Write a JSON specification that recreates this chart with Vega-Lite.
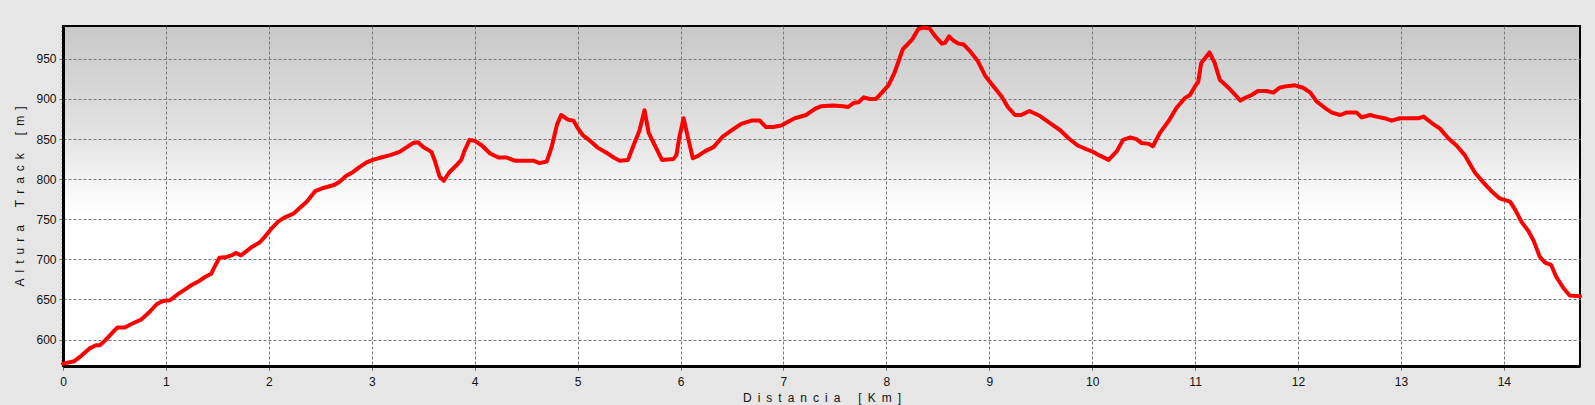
{
  "$schema": "https://vega.github.io/schema/vega-lite/v6.json",
  "width": 1517,
  "height": 340,
  "autosize": {"type": "none"},
  "padding": {"left": 63, "top": 26, "right": 15, "bottom": 39},
  "background": "#e6e6e6",
  "config": {
    "view": {
      "stroke": "#000000",
      "strokeWidth": 2,
      "fill": {
        "gradient": "linear", "x1": 0, "y1": 0, "x2": 0, "y2": 1,
        "stops": [
          {"offset": 0, "color": "#c8c8c8"},
          {"offset": 0.2, "color": "#d8d8d8"},
          {"offset": 0.35, "color": "#e6e6e6"},
          {"offset": 0.47, "color": "#f6f6f6"},
          {"offset": 0.55, "color": "#ffffff"},
          {"offset": 1, "color": "#ffffff"}
        ]
      }
    }
  },
  "data": {
    "values": [
      {"d": 0, "h": 570}, {"d": 0.11, "h": 573}, {"d": 0.18, "h": 580}, {"d": 0.26, "h": 589},
      {"d": 0.32, "h": 593}, {"d": 0.36, "h": 593}, {"d": 0.41, "h": 599}, {"d": 0.49, "h": 610},
      {"d": 0.53, "h": 615}, {"d": 0.6, "h": 615}, {"d": 0.66, "h": 619}, {"d": 0.76, "h": 625},
      {"d": 0.83, "h": 633}, {"d": 0.91, "h": 644}, {"d": 0.97, "h": 648}, {"d": 1.04, "h": 649},
      {"d": 1.12, "h": 657}, {"d": 1.18, "h": 662}, {"d": 1.25, "h": 668}, {"d": 1.31, "h": 672},
      {"d": 1.38, "h": 678}, {"d": 1.44, "h": 682}, {"d": 1.47, "h": 690}, {"d": 1.52, "h": 702},
      {"d": 1.59, "h": 703}, {"d": 1.64, "h": 705}, {"d": 1.68, "h": 708}, {"d": 1.73, "h": 705},
      {"d": 1.78, "h": 710}, {"d": 1.83, "h": 715}, {"d": 1.91, "h": 721}, {"d": 1.96, "h": 728},
      {"d": 2.03, "h": 739}, {"d": 2.09, "h": 747}, {"d": 2.15, "h": 752}, {"d": 2.24, "h": 757},
      {"d": 2.3, "h": 764}, {"d": 2.37, "h": 772}, {"d": 2.45, "h": 785}, {"d": 2.53, "h": 789},
      {"d": 2.64, "h": 793}, {"d": 2.69, "h": 797}, {"d": 2.75, "h": 804}, {"d": 2.82, "h": 809},
      {"d": 2.88, "h": 815}, {"d": 2.95, "h": 821}, {"d": 3.01, "h": 824}, {"d": 3.09, "h": 827},
      {"d": 3.18, "h": 830}, {"d": 3.27, "h": 834}, {"d": 3.34, "h": 840}, {"d": 3.4, "h": 845},
      {"d": 3.45, "h": 846}, {"d": 3.5, "h": 840}, {"d": 3.58, "h": 834}, {"d": 3.61, "h": 824},
      {"d": 3.66, "h": 803}, {"d": 3.7, "h": 798}, {"d": 3.75, "h": 808}, {"d": 3.82, "h": 817},
      {"d": 3.87, "h": 824}, {"d": 3.9, "h": 835}, {"d": 3.95, "h": 849}, {"d": 4.0, "h": 848},
      {"d": 4.07, "h": 842}, {"d": 4.15, "h": 832}, {"d": 4.23, "h": 827}, {"d": 4.31, "h": 827},
      {"d": 4.39, "h": 823}, {"d": 4.47, "h": 823}, {"d": 4.57, "h": 823}, {"d": 4.63, "h": 820},
      {"d": 4.7, "h": 822}, {"d": 4.75, "h": 841}, {"d": 4.8, "h": 868}, {"d": 4.84, "h": 880},
      {"d": 4.91, "h": 874}, {"d": 4.96, "h": 873}, {"d": 5.0, "h": 864}, {"d": 5.05, "h": 855},
      {"d": 5.12, "h": 848}, {"d": 5.2, "h": 839}, {"d": 5.28, "h": 833}, {"d": 5.35, "h": 827},
      {"d": 5.41, "h": 823}, {"d": 5.49, "h": 824}, {"d": 5.54, "h": 841}, {"d": 5.6, "h": 860},
      {"d": 5.65, "h": 886}, {"d": 5.69, "h": 858}, {"d": 5.75, "h": 842}, {"d": 5.82, "h": 824},
      {"d": 5.93, "h": 825}, {"d": 5.96, "h": 830}, {"d": 5.99, "h": 853}, {"d": 6.03, "h": 876},
      {"d": 6.07, "h": 853}, {"d": 6.12, "h": 826}, {"d": 6.17, "h": 829}, {"d": 6.24, "h": 835},
      {"d": 6.32, "h": 840}, {"d": 6.41, "h": 853}, {"d": 6.51, "h": 862}, {"d": 6.59, "h": 869},
      {"d": 6.69, "h": 873}, {"d": 6.77, "h": 873}, {"d": 6.83, "h": 865}, {"d": 6.9, "h": 865},
      {"d": 6.98, "h": 867}, {"d": 7.05, "h": 872}, {"d": 7.11, "h": 876}, {"d": 7.22, "h": 880},
      {"d": 7.31, "h": 888}, {"d": 7.37, "h": 891}, {"d": 7.48, "h": 892}, {"d": 7.58, "h": 891},
      {"d": 7.63, "h": 890}, {"d": 7.68, "h": 895}, {"d": 7.73, "h": 896}, {"d": 7.78, "h": 902},
      {"d": 7.84, "h": 900}, {"d": 7.9, "h": 900}, {"d": 7.95, "h": 907}, {"d": 8.02, "h": 917},
      {"d": 8.08, "h": 933}, {"d": 8.16, "h": 962}, {"d": 8.25, "h": 974}, {"d": 8.31, "h": 987},
      {"d": 8.36, "h": 989}, {"d": 8.42, "h": 988}, {"d": 8.47, "h": 979}, {"d": 8.54, "h": 969},
      {"d": 8.57, "h": 970}, {"d": 8.61, "h": 978}, {"d": 8.65, "h": 973}, {"d": 8.7, "h": 969},
      {"d": 8.75, "h": 968}, {"d": 8.81, "h": 960}, {"d": 8.89, "h": 947}, {"d": 8.96, "h": 929},
      {"d": 9.04, "h": 916}, {"d": 9.12, "h": 903}, {"d": 9.18, "h": 890}, {"d": 9.25, "h": 880},
      {"d": 9.31, "h": 880}, {"d": 9.39, "h": 885}, {"d": 9.49, "h": 879}, {"d": 9.59, "h": 870},
      {"d": 9.69, "h": 861}, {"d": 9.77, "h": 851}, {"d": 9.86, "h": 842}, {"d": 9.95, "h": 837},
      {"d": 10.01, "h": 834}, {"d": 10.08, "h": 829}, {"d": 10.16, "h": 824}, {"d": 10.24, "h": 835},
      {"d": 10.3, "h": 849}, {"d": 10.37, "h": 852}, {"d": 10.43, "h": 850}, {"d": 10.48, "h": 845},
      {"d": 10.55, "h": 844}, {"d": 10.59, "h": 841}, {"d": 10.66, "h": 858}, {"d": 10.74, "h": 872},
      {"d": 10.82, "h": 889}, {"d": 10.9, "h": 901}, {"d": 10.95, "h": 905}, {"d": 11.0, "h": 916},
      {"d": 11.03, "h": 921}, {"d": 11.06, "h": 945}, {"d": 11.14, "h": 958}, {"d": 11.19, "h": 945},
      {"d": 11.24, "h": 924}, {"d": 11.29, "h": 918}, {"d": 11.34, "h": 912}, {"d": 11.39, "h": 905},
      {"d": 11.44, "h": 898}, {"d": 11.48, "h": 901}, {"d": 11.55, "h": 905}, {"d": 11.61, "h": 910},
      {"d": 11.69, "h": 910}, {"d": 11.76, "h": 908}, {"d": 11.82, "h": 914}, {"d": 11.89, "h": 916},
      {"d": 11.97, "h": 917}, {"d": 12.05, "h": 914}, {"d": 12.12, "h": 908}, {"d": 12.18, "h": 897},
      {"d": 12.26, "h": 889}, {"d": 12.33, "h": 883}, {"d": 12.41, "h": 880}, {"d": 12.47, "h": 883},
      {"d": 12.57, "h": 883}, {"d": 12.62, "h": 877}, {"d": 12.7, "h": 880}, {"d": 12.76, "h": 878},
      {"d": 12.84, "h": 876}, {"d": 12.91, "h": 873}, {"d": 12.99, "h": 876}, {"d": 13.09, "h": 876},
      {"d": 13.17, "h": 876}, {"d": 13.22, "h": 878}, {"d": 13.3, "h": 870}, {"d": 13.38, "h": 863},
      {"d": 13.46, "h": 851}, {"d": 13.54, "h": 842}, {"d": 13.62, "h": 830}, {"d": 13.67, "h": 819},
      {"d": 13.72, "h": 808}, {"d": 13.8, "h": 796}, {"d": 13.88, "h": 785}, {"d": 13.96, "h": 776},
      {"d": 14.06, "h": 772}, {"d": 14.11, "h": 762}, {"d": 14.17, "h": 747}, {"d": 14.24, "h": 735},
      {"d": 14.29, "h": 723}, {"d": 14.35, "h": 703}, {"d": 14.4, "h": 696}, {"d": 14.46, "h": 693},
      {"d": 14.51, "h": 678}, {"d": 14.58, "h": 664}, {"d": 14.64, "h": 655}, {"d": 14.74, "h": 654}
    ]
  },
  "mark": {"type": "line", "color": "#ff0000", "strokeWidth": 4, "strokeJoin": "round", "strokeCap": "round"},
  "encoding": {
    "x": {
      "field": "d",
      "type": "quantitative",
      "scale": {"domain": [0, 14.74], "nice": false, "zero": false},
      "axis": {
        "title": "D\u2002i\u2002s\u2002t\u2002a\u2002n\u2002c\u2002i\u2002a\u2002\u2002\u2002[\u2002K\u2002m\u2002]",
        "values": [0,0.25,0.5,0.75,1,1.25,1.5,1.75,2,2.25,2.5,2.75,3,3.25,3.5,3.75,4,4.25,4.5,4.75,5,5.25,5.5,5.75,6,6.25,6.5,6.75,7,7.25,7.5,7.75,8,8.25,8.5,8.75,9,9.25,9.5,9.75,10,10.25,10.5,10.75,11,11.25,11.5,11.75,12,12.25,12.5,12.75,13,13.25,13.5,13.75,14,14.25,14.5],
        "format": "d",
        "labelExpr": "datum.value % 1 === 0 ? datum.label : ''",
        "labelOverlap": false,
        "labelFlush": false,
        "labelFont": "Liberation Sans",
        "labelFontSize": 12,
        "labelColor": "#111111",
        "labelPadding": 6,
        "grid": true,
        "gridColor": "#777777",
        "gridDash": [3, 2],
        "gridWidth": 1,
        "gridOpacity": {"condition": {"test": "datum.value % 1 === 0", "value": 1}, "value": 0},
        "ticks": true,
        "tickColor": "#666666",
        "tickSize": 4,
        "tickWidth": 1,
        "domain": true,
        "domainColor": "#000000",
        "domainWidth": 3,
        "titleFont": "Liberation Sans",
        "titleFontSize": 12,
        "titleFontWeight": "normal",
        "titleColor": "#111111",
        "titlePadding": 5
      }
    },
    "y": {
      "field": "h",
      "type": "quantitative",
      "scale": {"domain": [567, 991], "nice": false, "zero": false},
      "axis": {
        "title": "A\u2002l\u2002t\u2002u\u2002r\u2002a\u2002\u2002\u2002T\u2002r\u2002a\u2002c\u2002k\u2002\u2002\u2002[\u2002m\u2002]",
        "values": [570,575,580,585,590,595,600,605,610,615,620,625,630,635,640,645,650,655,660,665,670,675,680,685,690,695,700,705,710,715,720,725,730,735,740,745,750,755,760,765,770,775,780,785,790,795,800,805,810,815,820,825,830,835,840,845,850,855,860,865,870,875,880,885,890,895,900,905,910,915,920,925,930,935,940,945,950,955,960,965,970,975,980,985,990],
        "format": "d",
        "labelExpr": "datum.value % 50 === 0 ? datum.label : ''",
        "labelOverlap": false,
        "labelFlush": false,
        "labelFont": "Liberation Sans",
        "labelFontSize": 12,
        "labelColor": "#111111",
        "labelPadding": 3,
        "grid": true,
        "gridColor": "#777777",
        "gridDash": [3, 2],
        "gridWidth": 1,
        "gridOpacity": {"condition": {"test": "datum.value % 50 === 0", "value": 1}, "value": 0},
        "ticks": true,
        "tickColor": "#666666",
        "tickSize": {"condition": {"test": "datum.value % 50 === 0", "value": 4}, "value": 2},
        "tickWidth": 1,
        "domain": true,
        "domainColor": "#000000",
        "domainWidth": 3,
        "titleFont": "Liberation Sans",
        "titleFontSize": 12,
        "titleFontWeight": "normal",
        "titleColor": "#111111",
        "titlePadding": 9
      }
    }
  }
}
